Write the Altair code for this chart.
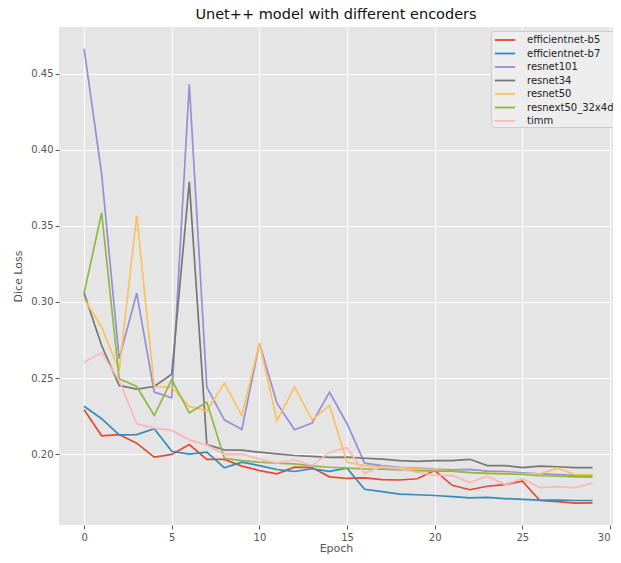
import altair as alt
import pandas as pd

epochs = list(range(30))

efficientnet_b5 = [0.2291, 0.2120, 0.2128, 0.2071, 0.1979, 0.1997, 0.2062, 0.1964, 0.1964, 0.1920,
                   0.1891, 0.1869, 0.1913, 0.1911, 0.1850, 0.1839, 0.1843, 0.1831, 0.1829, 0.1837,
                   0.1891, 0.1794, 0.1765, 0.1788, 0.1799, 0.1821, 0.1694, 0.1687, 0.1677, 0.1678]
efficientnet_b7 = [0.2314, 0.2232, 0.2126, 0.2128, 0.2166, 0.2018, 0.1999, 0.2012, 0.1909, 0.1946,
                   0.1924, 0.1898, 0.1885, 0.1903, 0.1886, 0.1907, 0.1768, 0.1753, 0.1736, 0.1732,
                   0.1727, 0.1720, 0.1712, 0.1714, 0.1707, 0.1701, 0.1697, 0.1697, 0.1694, 0.1694]
resnet101 = [0.4666, 0.3843, 0.2626, 0.3058, 0.2407, 0.2370, 0.4433, 0.2439, 0.2225, 0.2161,
             0.2728, 0.2334, 0.2159, 0.2203, 0.2406, 0.2199, 0.1940, 0.1924, 0.1913, 0.1907,
             0.1900, 0.1896, 0.1899, 0.1887, 0.1885, 0.1876, 0.1869, 0.1865, 0.1859, 0.1857]
resnet34 = [0.3058, 0.2714, 0.2451, 0.2427, 0.2444, 0.2525, 0.3791, 0.2062, 0.2027, 0.2025,
            0.2012, 0.2001, 0.1990, 0.1984, 0.1978, 0.1979, 0.1972, 0.1966, 0.1957, 0.1951,
            0.1957, 0.1957, 0.1965, 0.1924, 0.1924, 0.1911, 0.1920, 0.1916, 0.1911, 0.1911]
resnet50 = [0.3021, 0.2834, 0.2549, 0.3569, 0.2444, 0.2440, 0.2313, 0.2283, 0.2466, 0.2253,
            0.2729, 0.2220, 0.2440, 0.2225, 0.2319, 0.1946, 0.1924, 0.1913, 0.1910, 0.1902,
            0.1896, 0.1887, 0.1880, 0.1873, 0.1873, 0.1869, 0.1869, 0.1907, 0.1865, 0.1865]
resnext50_32x4d = [0.3058, 0.3587, 0.2495, 0.2444, 0.2253, 0.2490, 0.2271, 0.2341, 0.1972, 0.1957,
                   0.1946, 0.1940, 0.1935, 0.1922, 0.1913, 0.1907, 0.1902, 0.1900, 0.1896, 0.1891,
                   0.1887, 0.1887, 0.1878, 0.1873, 0.1869, 0.1865, 0.1857, 0.1854, 0.1850, 0.1848]
timm = [0.2604, 0.2666, 0.2484, 0.2199, 0.2170, 0.2155, 0.2093, 0.2060, 0.1997, 0.1999,
        0.1968, 0.1940, 0.1962, 0.1924, 0.2012, 0.2041, 0.1874, 0.1918, 0.1902, 0.1880,
        0.1859, 0.1859, 0.1812, 0.1854, 0.1799, 0.1837, 0.1778, 0.1786, 0.1778, 0.1808]

series_names = ["efficientnet-b5", "efficientnet-b7", "resnet101", "resnet34",
                "resnet50", "resnext50_32x4d", "timm"]
series_values = [efficientnet_b5, efficientnet_b7, resnet101, resnet34,
                 resnet50, resnext50_32x4d, timm]
colors = ["#E24A33", "#348ABD", "#988ED5", "#777777", "#FBC15E", "#8EBA42", "#FFB5B8"]

x_ticks = [0, 5, 10, 15, 20, 25, 30]
y_ticks = [0.20, 0.25, 0.30, 0.35, 0.40, 0.45]

rows = []
for name, vals in zip(series_names, series_values):
    for e, v in zip(epochs, vals):
        rows.append({"Epoch": e, "Dice Loss": v, "encoder": name, "order": series_names.index(name)})
df = pd.DataFrame(rows)

font = "DejaVu Sans"

chart = alt.Chart(df).mark_line(strokeWidth=1.7, clip=True).encode(
    x=alt.X("Epoch:Q",
            scale=alt.Scale(domain=[-1.432, 30.17], nice=False, zero=False),
            axis=alt.Axis(values=x_ticks, format="d", title="Epoch", titlePadding=0,
                          labelPadding=3, labelFlush=5)),
    y=alt.Y("Dice Loss:Q",
            scale=alt.Scale(domain=[0.15329, 0.48092], nice=False, zero=False),
            axis=alt.Axis(values=y_ticks, format=".2f", title="Dice Loss", titlePadding=7)),
    color=alt.Color("encoder:N",
                    scale=alt.Scale(domain=series_names, range=colors),
                    legend=alt.Legend(title=None, orient="none", legendX=432, legendY=4,
                                      symbolType="M-1.45,0H1.45", symbolSize=196, symbolStrokeWidth=1.8,
                                      symbolOffset=5,
                                      labelFontSize=10, labelFont=font, labelColor="#222222",
                                      labelOffset=14, rowPadding=0.5, padding=1,
                                      fillColor="#EDEDED", strokeColor="#CCCCCC",
                                      cornerRadius=3)),
    detail="encoder:N",
    order="order:Q",
).properties(
    width=554,
    height=498,
    title=alt.TitleParams("Unet++ model with different encoders", fontSize=14.5, font=font,
                          fontWeight="normal", color="#111111", offset=5),
    autosize=alt.AutoSizeParams(type="none"),
    padding={"left": 51, "top": 19, "right": 0, "bottom": 30},
).configure_view(
    fill="#E5E5E5", strokeWidth=0
).configure_axis(
    domain=False, grid=True, gridColor="#FFFFFF", gridWidth=1,
    tickColor="#555555", tickSize=4, tickWidth=1,
    labelColor="#555555", labelFontSize=10, labelFont=font,
    titleColor="#555555", titleFontSize=11, titleFont=font, titleFontWeight="normal"
)

chart.save("out.html", embed_options={"renderer": "svg", "actions": False})
